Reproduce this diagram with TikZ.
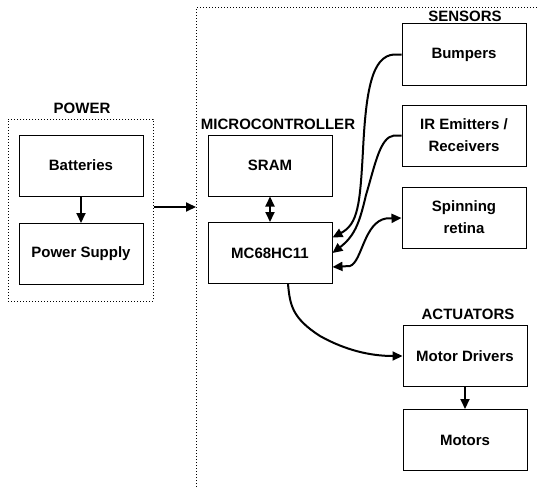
\documentclass[tikz,border=0pt]{standalone}
\usepackage{fontspec}
\setmainfont{Liberation Sans}
\usetikzlibrary{arrows.meta}
\begin{document}
\begin{tikzpicture}[x=1pt,y=-1pt,
  blk/.style={draw,line width=1pt,minimum width=124pt,minimum height=61pt,inner sep=0pt,align=center,font=\fontsize{15}{22}\selectfont\bfseries},
  lbl/.style={font=\fontsize{15}{18}\selectfont\bfseries,inner sep=0pt},
  dotframe/.style={draw,line width=1pt,dash pattern=on 1pt off 2pt},
  arr/.style={line width=2pt,-{Triangle[length=10pt,width=9pt]}},
  darr/.style={line width=2pt,{Triangle[length=10pt,width=9pt]}-{Triangle[length=10pt,width=9pt]}}]
\useasboundingbox (0,0) rectangle (537,487);
% frames
\node[dotframe,minimum width=145pt,minimum height=182pt,inner sep=0pt] (powerbox) at (80.5,210) {};
\draw[dotframe] (196,487) -- (196,8) -- (537,8);
\coordinate (frameleft) at (196,207);
% labels
\node[lbl] (lpower) at (82,108) {POWER};
\node[lbl] (lmicro) at (278,124) {MICROCONTROLLER};
\node[lbl] (lsens) at (465,16) {SENSORS};
\node[lbl] (lact) at (468,314) {ACTUATORS};
% blocks
\node[blk] (bat) at (81,165.5) {Batteries};
\node[blk] (ps) at (81,254) {Power Supply};
\node[blk] (sram) at (270,165.5) {SRAM};
\node[blk] (mc) at (270,253) {MC68HC11};
\node[blk] (bump) at (464,54.5) {Bumpers};
\node[blk] (ir) at (464,135.5) {IR Emitters /\\Receivers};
\node[blk] (spin) at (464,217.5) {Spinning\\retina};
\node[blk] (md) at (465,356) {Motor Drivers};
\node[blk] (mot) at (465,440) {Motors};
% connectors
\draw[arr] (bat) -- (ps);
\draw[arr] (powerbox.east |- frameleft) -- (frameleft);
\draw[darr] (sram) -- (mc);
\draw[arr] (md) -- (mot);
\draw[arr] (bump.west) -- (394,54.5) .. controls (372,56) and (366,90) .. (363,150)
   .. controls (360,205) and (358,224) .. (mc.east |- 0,237.5);
\draw[arr] (ir.west) -- (394,135.5) .. controls (380,137) and (375,165) .. (366,195)
   .. controls (360,220) and (356,235) .. (mc.east |- 0,253);
\draw[darr] (mc.east |- 0,267) -- (350,266) .. controls (362,262) and (364,222) .. (386,218.5) -- (spin.west |- 0,218);
\draw[arr] (mc.south -| 288,0) .. controls (290,305) and (292,318) .. (320,336)
   .. controls (345,350) and (370,356) .. (md.west);
\end{tikzpicture}
\end{document}
